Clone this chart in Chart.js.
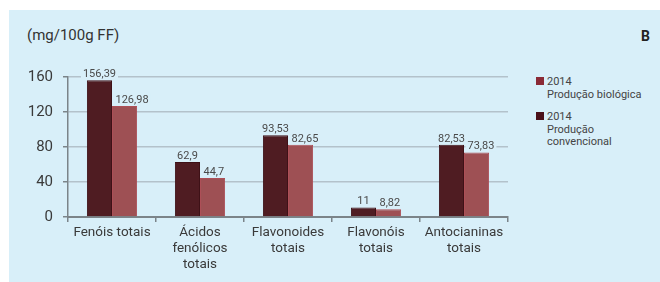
<!DOCTYPE html>
<html>
<head>
<meta charset="utf-8">
<script src="https://cdn.jsdelivr.net/npm/chart.js@4.4.1/dist/chart.umd.min.js"></script>
<style>
  html, body { margin: 0; padding: 0; background: #ffffff; }
  body { width: 660px; height: 282px; position: relative; overflow: hidden; font-family: Roboto, "Liberation Sans", sans-serif; }
  #panel { position: absolute; left: 9px; top: 10px; width: 651px; height: 272px; background: #d8eff9; }
  #wrap { position: absolute; left: 0; top: 0; width: 660px; height: 282px; }
  #title { position: absolute; left: 27px; top: 26px; font-size: 15px; color: #333; line-height: 18px; }
  #letter { position: absolute; left: 641px; top: 28px; font-size: 14px; font-weight: bold; color: #222; line-height: 16px; }
  .leg { position: absolute; left: 536px; font-size: 11px; color: #444; line-height: 12.5px; }
  .leg .sq { position: absolute; left: 0; top: 1px; width: 8px; height: 8px; }
  .leg .tx { position: absolute; left: 11px; top: 0; white-space: nowrap; }
</style>
</head>
<body>
<div id="panel"></div>
<div id="title">(mg/100g FF)</div>
<div id="letter">B</div>
<div class="leg" style="top:76px"><div class="sq" style="background:#8a2a36"></div><div class="tx">2014<br>Produção biológica</div></div>
<div class="leg" style="top:111px"><div class="sq" style="background:#4a1019"></div><div class="tx">2014<br>Produção<br>convencional</div></div>
<div id="wrap"><canvas id="c" width="660" height="282"></canvas></div>
<script>
const categories = [
  ["Fenóis totais"],
  ["Ácidos", "fenólicos", "totais"],
  ["Flavonoides", "totais"],
  ["Flavonóis", "totais"],
  ["Antocianinas", "totais"]
];
const convencional = [156.39, 62.9, 93.53, 11, 82.53];
const biologica = [126.98, 44.7, 82.65, 8.82, 73.83];
const yTicks = [0, 40, 80, 120, 160];

const panelColor = '#d8eff9';
const axisColor = '#7b8489';
const gridColor = '#b3c2cb';
const labelFont = '11px Roboto, "Liberation Sans", sans-serif';

function labelBoxes(chart) {
  const ctx = chart.ctx;
  ctx.font = labelFont;
  const out = [];
  chart.data.datasets.forEach((ds, di) => {
    const meta = chart.getDatasetMeta(di);
    meta.data.forEach((bar, i) => {
      const txt = String(ds.data[i]).replace('.', ',');
      const w = ctx.measureText(txt).width;
      let left;
      if (di === 0) {
        left = bar.x - w / 2;
      } else {
        left = bar.x - bar.width / 2 + 3.5;
      }
      out.push({ txt, left, w, y: bar.y - 3 });
    });
  });
  return out;
}

const labelPlugin = {
  id: 'barLabels',
  beforeDatasetsDraw(chart) {
    const ctx = chart.ctx;
    ctx.save();
    ctx.fillStyle = panelColor;
    labelBoxes(chart).forEach(b => ctx.fillRect(b.left - 2, b.y - 10, b.w + 4, 12));
    ctx.restore();
  },
  afterDatasetsDraw(chart) {
    const ctx = chart.ctx;
    ctx.save();
    const boxes = labelBoxes(chart);
    ctx.font = labelFont;
    ctx.textAlign = 'left';
    ctx.textBaseline = 'alphabetic';
    ctx.fillStyle = '#4a4a4a';
    boxes.forEach(b => ctx.fillText(b.txt, b.left, b.y));
    ctx.restore();
  }
};

new Chart(document.getElementById('c'), {
  type: 'bar',
  data: {
    labels: categories,
    datasets: [
      { label: '2014 Produção convencional', data: convencional, backgroundColor: '#4f1c22', borderColor: '#3e1117', borderWidth: 1 },
      { label: '2014 Produção biológica', data: biologica, backgroundColor: '#9e5054', borderColor: '#ad4f57', borderWidth: 1 }
    ]
  },
  options: {
    responsive: false,
    animation: false,
    layout: { padding: { left: 0, right: 152, top: 77, bottom: 0 } },
    datasets: { bar: { categoryPercentage: 0.57, barPercentage: 1.0 } },
    plugins: { legend: { display: false }, tooltip: { enabled: false } },
    scales: {
      x: {
        afterFit(s) { s.height = 65; },
        grid: { offset: true, drawOnChartArea: false, drawTicks: true, tickLength: 5, tickColor: axisColor, lineWidth: 1.5 },
        border: { color: axisColor, width: 2 },
        ticks: {
          autoSkip: false, maxRotation: 0, padding: 3, color: '#3a3a3a',
          font: { family: 'Roboto, "Liberation Sans", sans-serif', size: 13.5, lineHeight: 1.18 }
        }
      },
      y: {
        min: 0, max: 160,
        afterFit(s) { s.width = 68; },
        afterBuildTicks(s) { s.ticks = yTicks.map(v => ({ value: v })); },
        grid: { color: gridColor, lineWidth: 1.5, tickColor: axisColor, tickLength: 5 },
        border: { color: axisColor, width: 1.5 },
        ticks: {
          padding: 10, color: '#3a3a3a',
          font: { family: 'Roboto, "Liberation Sans", sans-serif', size: 15 }
        }
      }
    }
  },
  plugins: [labelPlugin]
});
</script>
</body>
</html>
